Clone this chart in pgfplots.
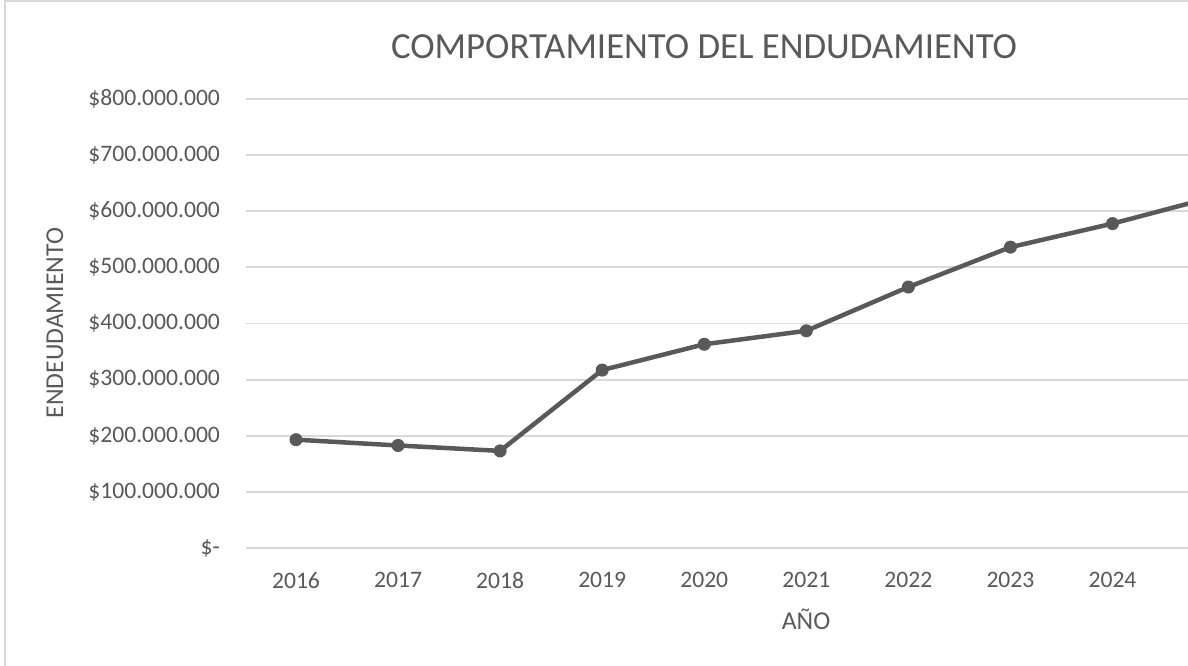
\documentclass[border=0pt]{standalone}
\usepackage{pgfplots}
\pgfplotsset{compat=1.18}
\usepackage{fontspec}
\setmainfont{Carlito}
\definecolor{txt}{HTML}{595959}
\definecolor{gridc}{HTML}{D9D9D9}
\definecolor{ln}{HTML}{595959}
\begin{document}
\begin{tikzpicture}
\useasboundingbox (0,0) rectangle (594pt,332.5pt);
\draw[gridc, line width=1pt] (2.5pt,-20pt) -- (2.5pt,332pt) -- (620pt,332pt);
\begin{axis}[
  at={(123pt,58.5pt)}, anchor=south west,
  scale only axis, width=471pt, height=224.5pt,
  xmin=-0.49, xmax=8.74, ymin=0, ymax=800000000,
  scaled y ticks=false,
  axis line style={draw=none}, major tick length=0pt,
  ymajorgrids, grid style={gridc, line width=0.9pt},
  xtick={0,1,2,3,4,5,6,7,8},
  xticklabels={2016,2017,2018,2019,2020,2021,2022,2023,2024},
  ytick={0,100000000,200000000,300000000,400000000,500000000,600000000,700000000,800000000},
  yticklabels={\$-,\$100.000.000,\$200.000.000,\$300.000.000,\$400.000.000,\$500.000.000,\$600.000.000,\$700.000.000,\$800.000.000},
  tick label style={font=\fontsize{11.8}{14}\selectfont, text=txt},
  yticklabel style={xshift=-9.5pt},
  xticklabel style={yshift=-8.5pt},
  clip=true,
]
\addplot[ln, line width=2.25pt, line join=round, mark=*, mark size=3pt, mark options={fill=ln, draw=ln, line width=0.5pt}] coordinates {
 (0,193000000) (1,182700000) (2,173000000) (3,317000000) (4,363000000)
 (5,387000000) (6,465000000) (7,536000000) (8,578000000) (9,626000000)
};
\end{axis}
\node[text=txt, font=\fontsize{18.4}{22}\selectfont] at (352pt,309pt) {COMPORTAMIENTO DEL ENDUDAMIENTO};
\node[text=txt, font=\fontsize{12.85}{15}\selectfont, rotate=90] at (27.5pt,171pt) {ENDEUDAMIENTO};
\node[text=txt, font=\fontsize{12.85}{15}\selectfont] at (403pt,23pt) {AÑO};
\end{tikzpicture}
\end{document}
